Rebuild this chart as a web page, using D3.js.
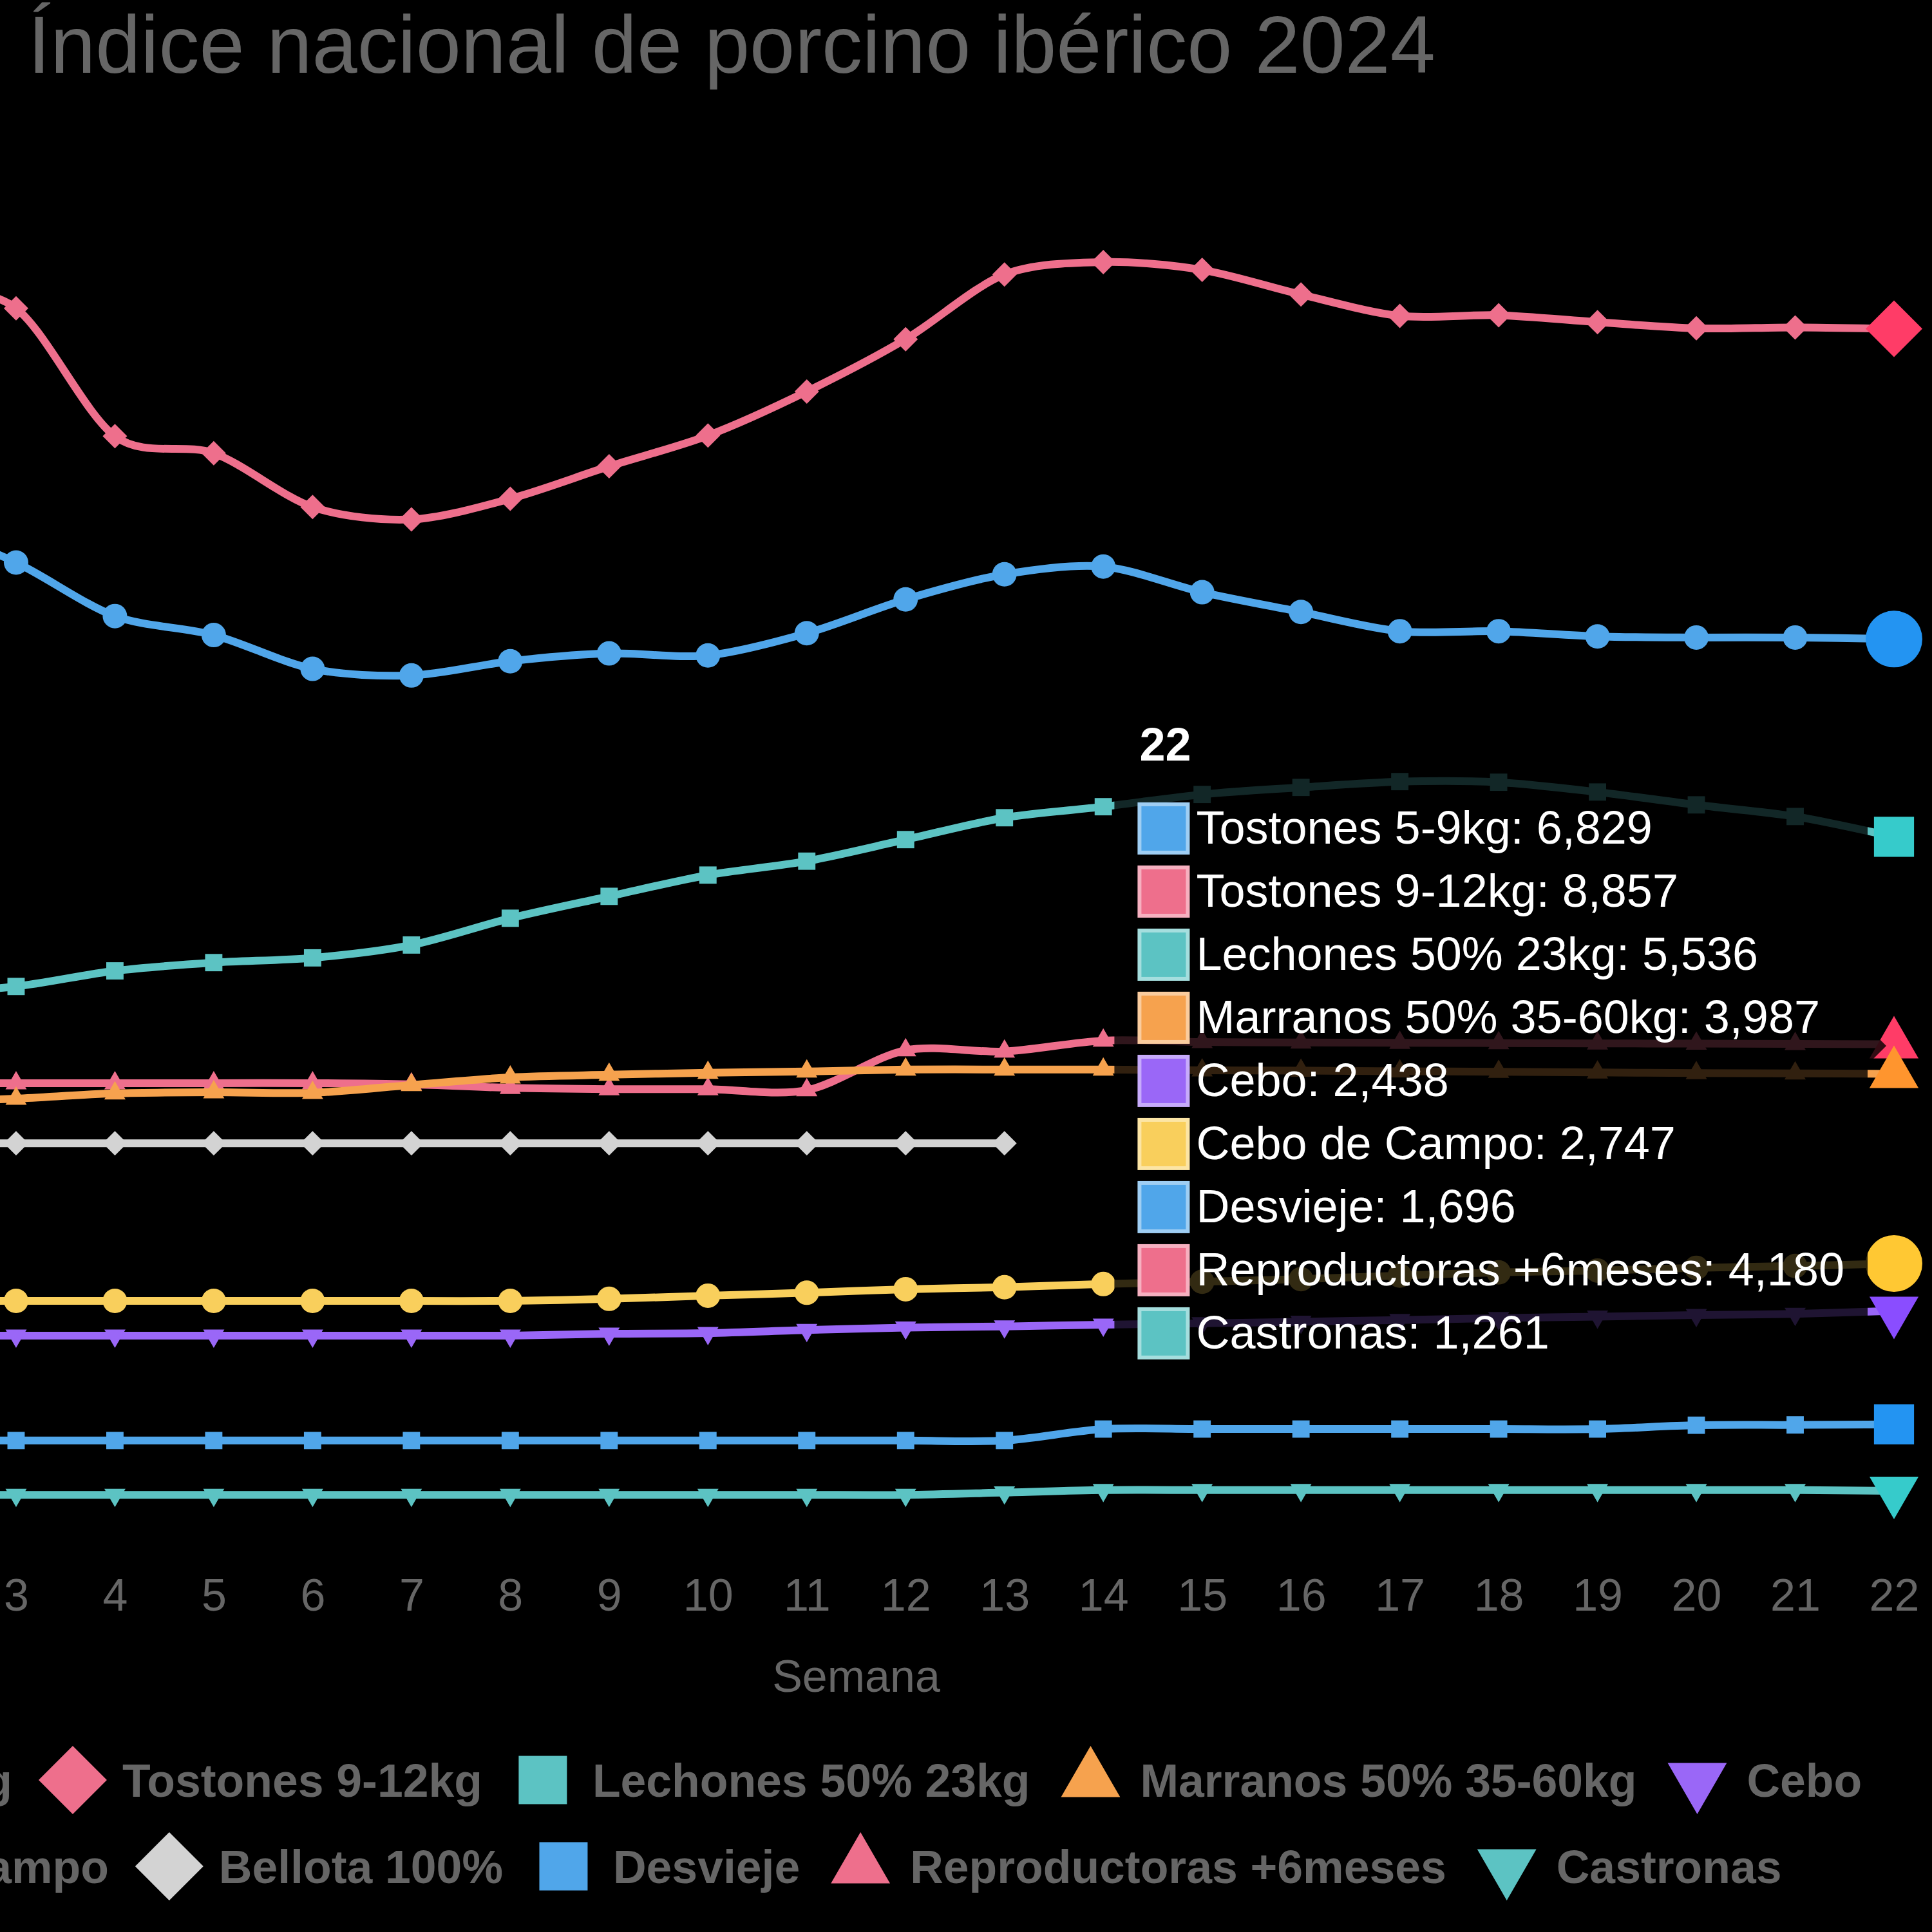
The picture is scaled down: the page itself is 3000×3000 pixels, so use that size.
<!DOCTYPE html>
<html>
<head>
<meta charset="utf-8">
<script src="https://cdn.jsdelivr.net/npm/d3@7"></script>
<style>
  html, body { margin: 0; padding: 0; background: #000; }
  svg { display: block; }
  text { font-family: "Liberation Sans", Arial, Helvetica, sans-serif; }
</style>
</head>
<body>
<svg id="chart"></svg>
<script>
'use strict';

// semana 1 queda fuera del recorte de la captura
const weeks = [1, 2, 3, 4, 5, 6, 7, 8, 9, 10, 11, 12, 13, 14, 15, 16, 17, 18, 19, 20, 21, 22];

const tostones59 = [null, 7590, 7329, 6979, 6855, 6634, 6591, 6684, 6735, 6722, 6867, 7088, 7252, 7303, 7135, 7006, 6880, 6880, 6846, 6839, 6839, 6829];
const tostones912 = [null, 9140, 8991, 8155, 8044, 7692, 7611, 7746, 7958, 8159, 8447, 8789, 9212, 9293, 9242, 9081, 8941, 8946, 8900, 8860, 8866, 8857];
const lechones = [null, 4510, 4558, 4660, 4714, 4745, 4829, 5004, 5147, 5286, 5377, 5518, 5661, 5733, 5813, 5859, 5897, 5893, 5829, 5745, 5669, 5536];
const marranos = [null, 3800, 3825, 3859, 3867, 3863, 3914, 3964, 3981, 3994, 4002, 4015, 4015, 4015, 4010, 4008, 4004, 4000, 3996, 3992, 3990, 3987];
const cebo = [null, 2276, 2276, 2276, 2276, 2276, 2276, 2276, 2288, 2292, 2312, 2328, 2336, 2347, 2356, 2366, 2378, 2390, 2400, 2410, 2418, 2438];
const ceboCampo = [null, 2503, 2503, 2503, 2503, 2503, 2503, 2503, 2516, 2537, 2556, 2579, 2592, 2613, 2628, 2645, 2668, 2689, 2701, 2719, 2731, 2747];
const bellota = [null, 3533, 3533, 3533, 3533, 3533, 3533, 3533, 3533, 3533, 3533, 3533, 3533, null, null, null, null, null, null, null, null, null];
const desvieje = [null, 1590, 1590, 1590, 1590, 1590, 1590, 1590, 1590, 1590, 1590, 1590, 1590, 1665, 1665, 1665, 1665, 1665, 1665, 1690, 1692, 1696];
const reproductoras = [null, 3926, 3926, 3926, 3926, 3926, 3918, 3895, 3887, 3887, 3880, 4141, 4133, 4204, 4195, 4192, 4190, 4188, 4186, 4184, 4182, 4180];
const castronas = [null, 1235, 1235, 1235, 1235, 1235, 1235, 1235, 1235, 1235, 1235, 1235, 1250, 1266, 1266, 1266, 1266, 1266, 1266, 1266, 1266, 1261];

const seriesNames = ['Tostones 5-9kg', 'Tostones 9-12kg', 'Lechones 50% 23kg', 'Marranos 50% 35-60kg', 'Cebo',
  'Cebo de Campo', 'Bellota 100%', 'Desvieje', 'Reproductoras +6meses', 'Castronas'];
const seriesValues = [tostones59, tostones912, lechones, marranos, cebo, ceboCampo, bellota, desvieje, reproductoras, castronas];

const lineColors = ['#50a6ea', '#ee6f8c', '#5cc3c3', '#f6a24e', '#9a67f7', '#f9cf5c', '#d3d3d3', '#50a6ea', '#ee6f8c', '#5cc3c3'];
const hoverColors = ['#2394f2', '#ff3c67', '#36cbcb', '#ff952e', '#8a4dff', '#ffc833', '#d3d3d3', '#2394f2', '#ff3c67', '#36cbcb'];
const pointStyles = ['circle', 'rectRot', 'rect', 'triangle', 'triangleDown', 'circle', 'rectRot', 'rect', 'triangle', 'triangleDown'];

const titleText = 'Índice nacional de porcino ibérico 2024';
const axisTitle = 'Semana';

const W = 3000, H = 3000;
const CENTER_X = 1136;
const FONT = 70;
const GREY = '#666';
const activeIndex = weeks.length - 1;

const markerPath = (style, r) => {
  const p = d3.path();
  if (style === 'circle') {
    p.arc(0, 0, r, 0, 2 * Math.PI);
  } else if (style === 'rect') {
    const s = r * Math.SQRT1_2;
    p.rect(-s, -s, 2 * s, 2 * s);
  } else if (style === 'rectRot') {
    p.moveTo(-r, 0);
    p.lineTo(0, -r);
    p.lineTo(r, 0);
    p.lineTo(0, r);
    p.closePath();
  } else {
    const rot = style === 'triangle' ? 0 : Math.PI;
    for (let i = 0; i < 3; i++) {
      const a = rot + i * 2 * Math.PI / 3;
      if (i) p.lineTo(Math.sin(a) * r, -Math.cos(a) * r);
      else p.moveTo(Math.sin(a) * r, -Math.cos(a) * r);
    }
    p.closePath();
  }
  return p.toString();
};

const svg = d3.select('#chart')
  .attr('width', W)
  .attr('height', H);

svg.append('rect')
  .attr('width', W)
  .attr('height', H)
  .attr('fill', '#000');

const x = d3.scaleLinear().domain([1, 22]).range([-282, 2941]);
const y = d3.scaleLinear().domain([1000, 10000]).range([2377, 239]);

// title
svg.append('text')
  .attr('x', CENTER_X)
  .attr('y', 113)
  .attr('text-anchor', 'middle')
  .attr('font-size', 126)
  .attr('fill', GREY)
  .text(titleText);

// x axis (weeks 1-2 fall left of the visible crop)
const gx = svg.append('g')
  .attr('transform', `translate(0,${y.range()[0]})`)
  .call(d3.axisBottom(x)
    .tickValues(weeks.filter(w => x(w) > 0))
    .tickFormat(d3.format('d'))
    .tickSize(0)
    .tickPadding(74));
gx.select('.domain').remove();
gx.attr('font-family', null).attr('font-size', FONT);
gx.selectAll('text').attr('fill', GREY);

svg.append('text')
  .attr('x', (x.range()[0] + x.range()[1]) / 2)
  .attr('y', 2627)
  .attr('text-anchor', 'middle')
  .attr('font-size', FONT)
  .attr('fill', GREY)
  .text(axisTitle);

// lines + points, first dataset drawn last (on top)
const line = d3.line()
  .defined(d => d.v != null)
  .x(d => x(d.w))
  .y(d => y(d.v))
  .curve(d3.curveCardinal.tension(0.1));

const plot = svg.append('g');
for (let i = seriesValues.length - 1; i >= 0; i--) {
  const pts = seriesValues[i].map((v, k) => ({ w: weeks[k], v, k }));
  const g = plot.append('g');

  g.append('path')
    .attr('d', line(pts))
    .attr('fill', 'none')
    .attr('stroke', lineColors[i])
    .attr('stroke-width', 12)
    .attr('stroke-linejoin', 'round');

  g.selectAll('path.pt')
    .data(pts.filter(d => d.v != null))
    .join('path')
    .attr('class', 'pt')
    .attr('transform', d => `translate(${x(d.w)},${y(d.v)})`)
    .attr('d', d => markerPath(pointStyles[i], d.k === activeIndex ? 44 : 19))
    .attr('fill', d => d.k === activeIndex ? hoverColors[i] : lineColors[i]);
}

// legend
const legendRows = [[0, 1, 2, 3, 4], [5, 6, 7, 8, 9]];
const legendY = [2764, 2898];
const ITEM_GAP = 52;
legendRows.forEach((row, r) => {
  const g = svg.append('g');
  let cursor = 0;
  row.forEach(i => {
    const item = g.append('g').attr('transform', `translate(${cursor},0)`);
    item.append('path')
      .attr('transform', 'translate(42,0)')
      .attr('d', markerPath(pointStyles[i], 53))
      .attr('fill', lineColors[i]);
    const t = item.append('text')
      .attr('x', 119)
      .attr('y', 26)
      .attr('font-size', 71.5)
      .attr('font-weight', 'bold')
      .attr('fill', GREY)
      .text(seriesNames[i]);
    cursor += 119 + t.node().getComputedTextLength() + ITEM_GAP;
  });
  const rowWidth = cursor - ITEM_GAP;
  g.attr('transform', `translate(${CENTER_X - rowWidth / 2},${legendY[r]})`);
});

// tooltip for week 22
const items = seriesValues
  .map((vals, i) => ({ i, v: vals[activeIndex] }))
  .filter(d => d.v != null);
const meanY = d3.mean(items, d => y(d.v));
const px = x(weeks[activeIndex]);

const PAD = 36, BOX = 75, TEXT_X = 127, LINE_H = 98, CARET = 29, CARET_PAD = 12;
const TIP_FONT = 72;
const tip = svg.append('g');
const tipBody = tip.append('g');

tipBody.append('text')
  .attr('class', 'tt-title')
  .attr('font-size', TIP_FONT)
  .attr('font-weight', 'bold')
  .attr('fill', '#fff')
  .text(weeks[activeIndex]);

const fmt = d3.format(',');
let maxW = 0;
items.forEach(d => {
  const t = tipBody.append('text')
    .attr('class', 'tt-line')
    .attr('font-size', TIP_FONT)
    .attr('fill', '#fff')
    .text(`${seriesNames[d.i]}: ${fmt(d.v)}`);
  maxW = Math.max(maxW, t.node().getComputedTextLength());
});

const boxW = TEXT_X + maxW + PAD;
const boxH = 186 + (items.length - 1) * LINE_H + 85;
const tipRight = px - CARET_PAD - CARET;
const tipLeft = tipRight - boxW;
const tipTop = meanY - boxH / 2;

tip.insert('path', ':first-child')
  .attr('d', () => {
    const p = d3.path();
    const rr = 35;
    p.moveTo(tipLeft + rr, tipTop);
    p.lineTo(tipRight - rr, tipTop);
    p.arcTo(tipRight, tipTop, tipRight, tipTop + rr, rr);
    p.lineTo(tipRight, meanY - CARET);
    p.lineTo(tipRight + CARET, meanY);
    p.lineTo(tipRight, meanY + CARET);
    p.lineTo(tipRight, tipTop + boxH - rr);
    p.arcTo(tipRight, tipTop + boxH, tipRight - rr, tipTop + boxH, rr);
    p.lineTo(tipLeft + rr, tipTop + boxH);
    p.arcTo(tipLeft, tipTop + boxH, tipLeft, tipTop + boxH - rr, rr);
    p.lineTo(tipLeft, tipTop + rr);
    p.arcTo(tipLeft, tipTop, tipLeft + rr, tipTop, rr);
    p.closePath();
    return p.toString();
  })
  .attr('fill', 'rgba(0,0,0,0.8)');

tipBody.select('.tt-title')
  .attr('x', tipLeft + PAD + 3)
  .attr('y', tipTop + 85);

tipBody.selectAll('.tt-line').each(function(d, n) {
  const cy = tipTop + 188 + n * LINE_H;
  const it = items[n];
  d3.select(this)
    .attr('x', tipLeft + TEXT_X)
    .attr('y', cy + 26);
  tipBody.append('rect')
    .attr('x', tipLeft + PAD + 3)
    .attr('y', cy - BOX / 2 + 2)
    .attr('width', BOX)
    .attr('height', BOX)
    .attr('fill', lineColors[it.i])
    .attr('stroke', d3.interpolateRgb(lineColors[it.i], '#fff')(0.45))
    .attr('stroke-width', 6);
});
</script>
</body>
</html>
